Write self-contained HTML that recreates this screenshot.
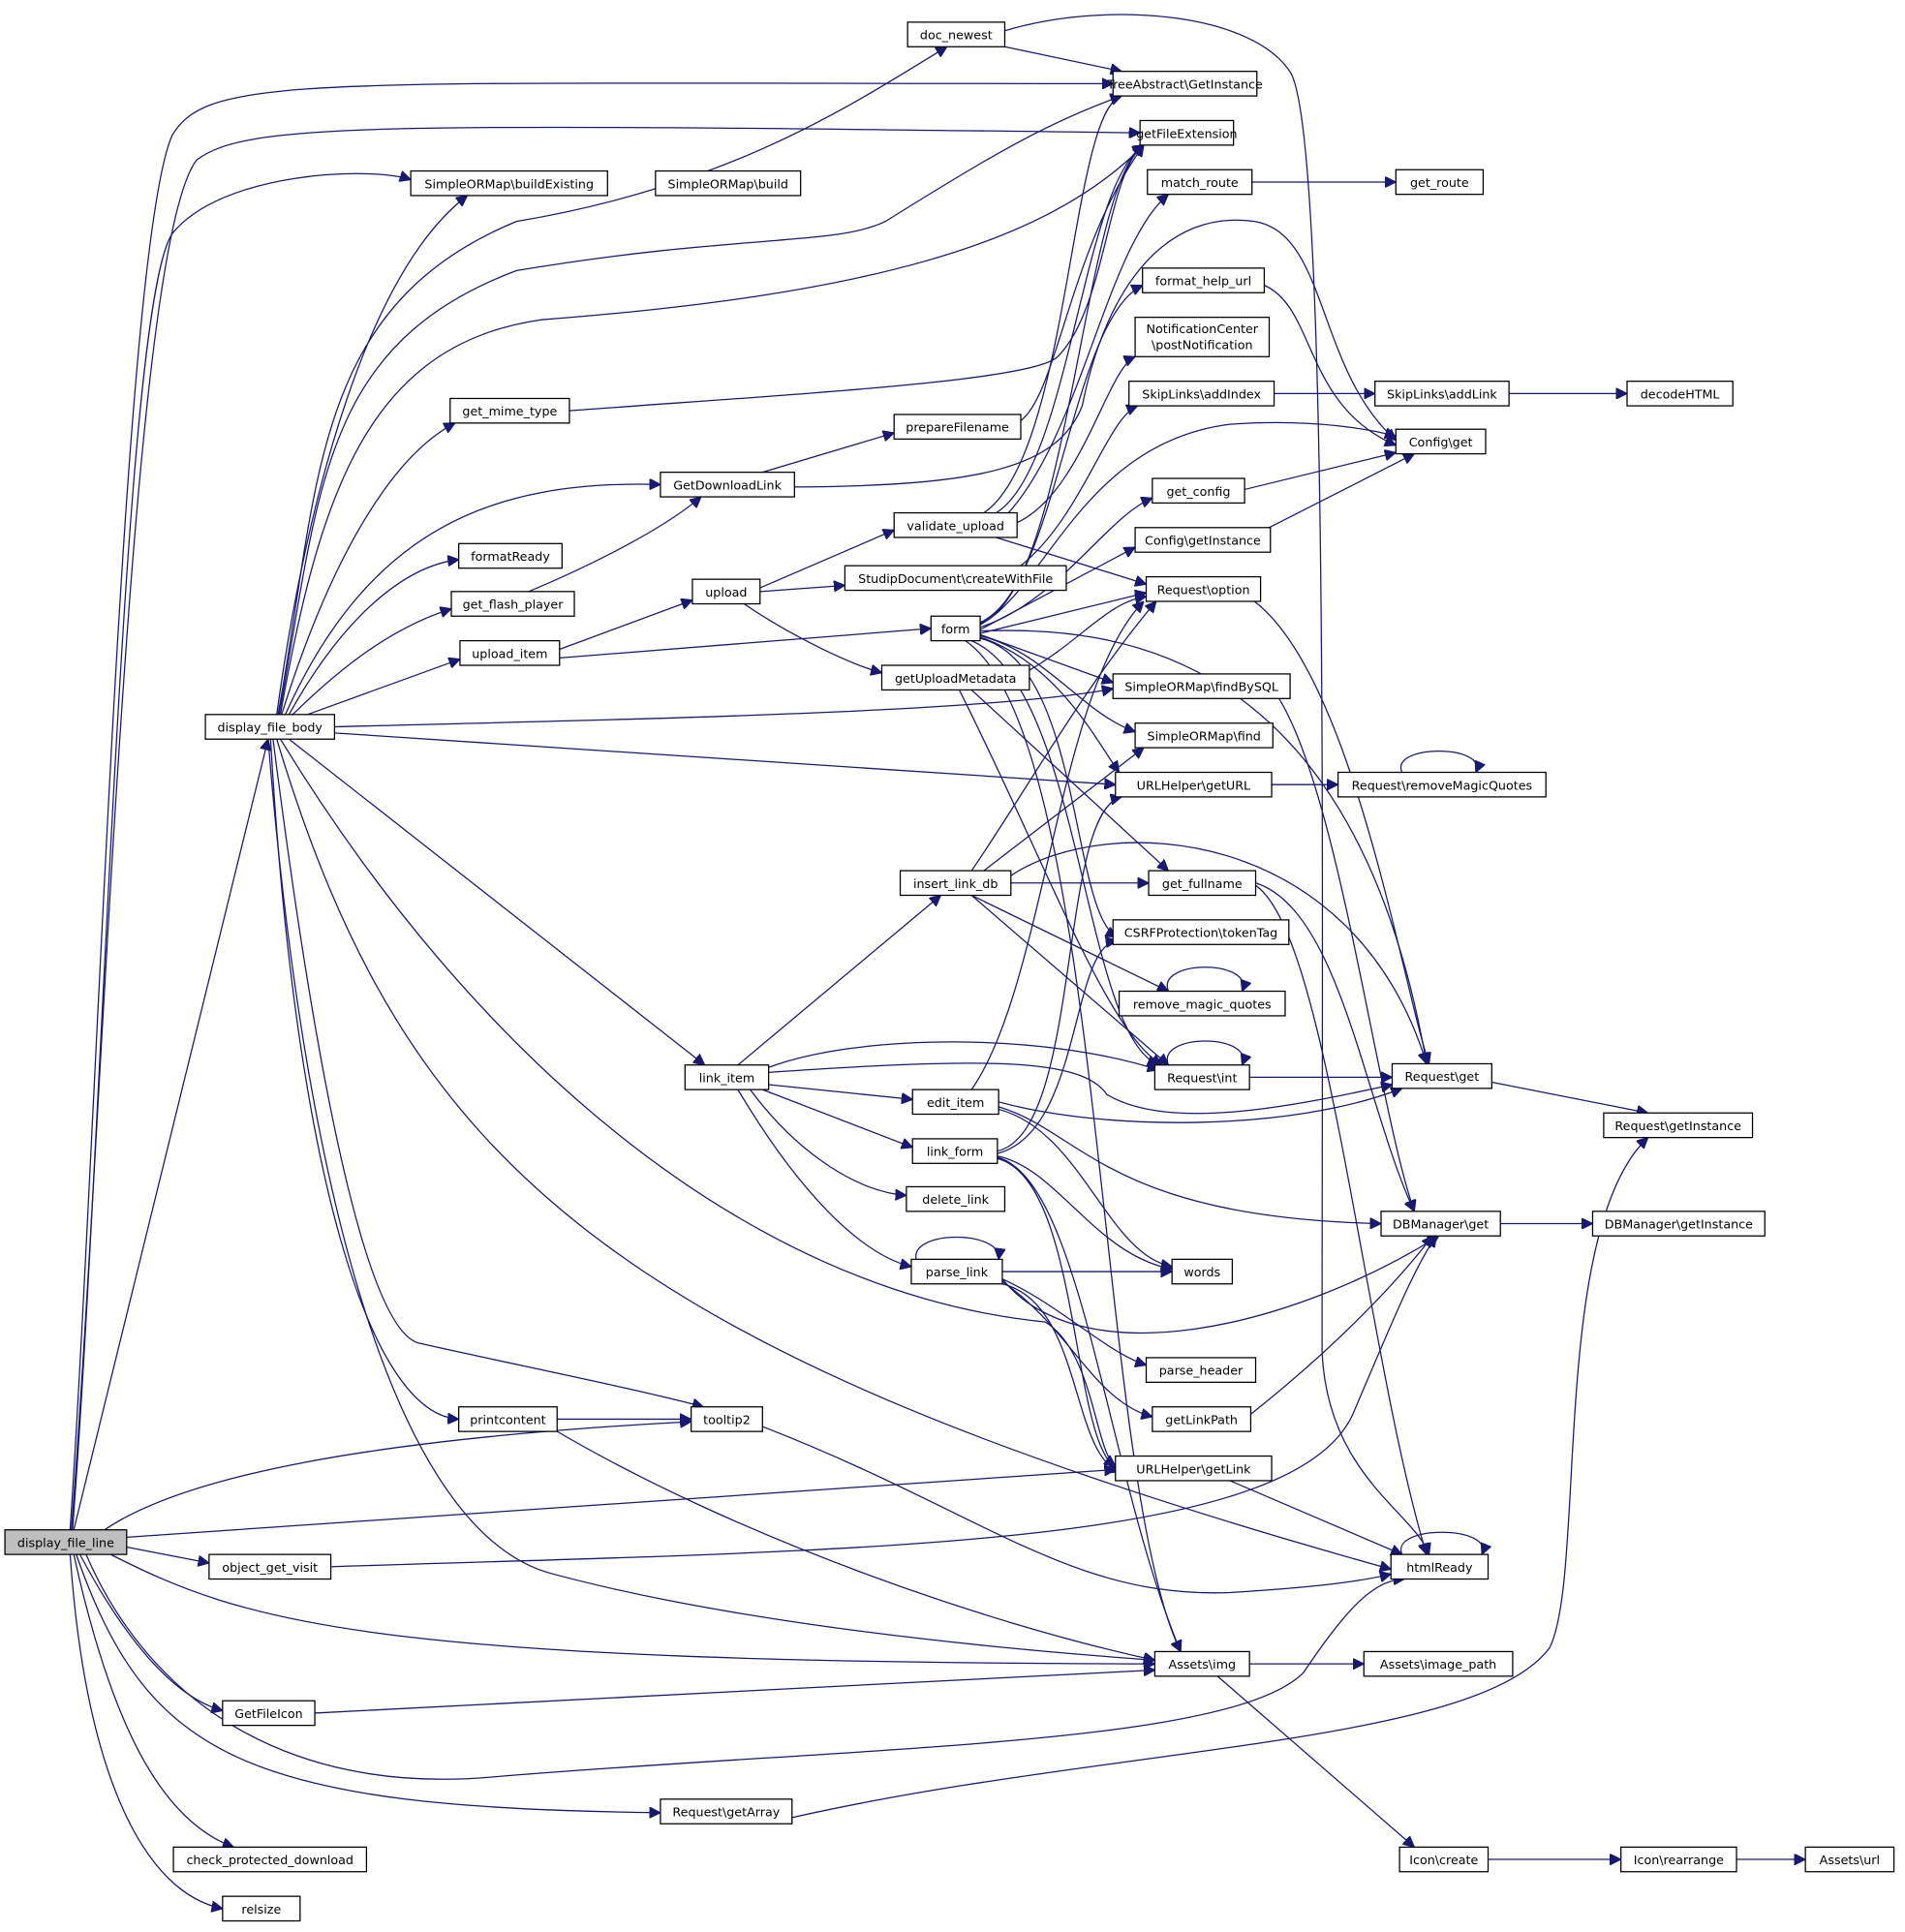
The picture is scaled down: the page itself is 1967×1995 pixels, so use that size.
<!DOCTYPE html>
<html><head><meta charset="utf-8"><style>
html,body{margin:0;padding:0;background:#fff;}
svg{display:block;}
.n rect{fill:#fff;stroke:#000;stroke-width:1;}
.n text, text{font-family:"DejaVu Sans","Liberation Sans",sans-serif;font-size:10px;fill:#000;text-anchor:middle;}
.e path{fill:none;stroke:#191970;stroke-width:1;marker-end:url(#a);}
</style></head><body>
<svg width="1967" height="1995" viewBox="0 0 1549 1571" xmlns="http://www.w3.org/2000/svg">
<defs><marker id="a" viewBox="0 0 10 10" refX="10" refY="5" markerWidth="9" markerHeight="9" markerUnits="userSpaceOnUse" orient="auto"><path d="M0,0 L10,5 L0,10 z" fill="#191970" stroke="#191970"/></marker></defs>
<g class="e">
<!-- display_file_line -->
<path d="M57,1244 C80,900 100,200 140,110 C170,60 250,68 905,68"/>
<path d="M58,1244 C85,900 105,200 160,130 C200,100 300,100 927,108"/>
<path d="M59,1244 C85,900 100,250 140,190 C180,140 300,135 334,146"/>
<path d="M60,1244 L218,601"/>
<path d="M85,1244 C150,1200 300,1170 562,1156"/>
<path d="M103,1250 L907,1195"/>
<path d="M103,1258 L170,1271"/>
<path d="M90,1264 C200,1320 300,1352 939,1353"/>
<path d="M65,1264 C100,1330 140,1380 181,1391"/>
<path d="M70,1264 C120,1380 230,1460 400,1445 C700,1420 1000,1420 1060,1360 C1100,1300 1120,1285 1142,1284"/>
<path d="M62,1264 C120,1430 200,1470 537,1474"/>
<path d="M60,1264 C90,1400 130,1480 190,1502"/>
<path d="M57,1264 C70,1450 120,1540 181,1552"/>
<!-- display_file_body -->
<path d="M225,581 C250,400 300,220 380,159"/>
<path d="M226,581 C260,400 250,250 420,180 C600,150 700,80 770,38"/>
<path d="M227,581 C260,400 260,280 420,220 C600,190 680,200 720,180 C800,130 850,100 912,78"/>
<path d="M228,581 C260,400 300,280 440,260 C700,240 850,200 930,118"/>
<path d="M229,581 C270,450 320,370 370,344"/>
<path d="M232,581 C300,430 400,390 537,394"/>
<path d="M235,581 C280,500 330,460 373,455"/>
<path d="M238,581 C280,540 320,510 367,495"/>
<path d="M250,581 L374,536"/>
<path d="M272,591 C500,585 800,580 905,560"/>
<path d="M272,596 L907,638"/>
<path d="M235,601 L573,866"/>
<path d="M228,601 C380,850 600,1050 850,1075 C890,1100 890,1180 907,1192"/>
<path d="M225,601 C330,950 500,1100 1131,1276"/>
<path d="M222,601 C260,900 300,1080 340,1092 C420,1110 520,1130 572,1144"/>
<path d="M220,601 C240,950 300,1150 373,1154"/>
<path d="M218,601 C250,1000 330,1250 450,1280 C600,1320 800,1340 939,1350"/>
<!-- misc -->
<path d="M463,334 C650,320 840,310 860,290 C900,250 900,140 930,118"/>
<path d="M620,384 L727,352"/>
<path d="M646,396 C800,395 860,380 880,330 C900,230 950,170 1020,180 C1080,190 1070,300 1135,358"/>
<path d="M430,481 C480,460 540,430 570,404"/>
<path d="M455,528 L563,488"/>
<path d="M455,535 L757,511"/>
<path d="M618,478 L727,431"/>
<path d="M618,481 L687,476"/>
<path d="M605,491 C640,515 690,540 717,547"/>
<path d="M830,342 C860,320 870,200 930,118"/>
<path d="M810,417 C870,380 880,150 930,118"/>
<path d="M820,417 C880,350 900,200 950,158"/>
<path d="M827,425 C880,400 900,300 923,290"/>
<path d="M810,437 L932,475"/>
<path d="M800,417 C870,370 870,90 912,78"/>
<path d="M830,460 C880,420 900,340 925,330"/>
<path d="M797,506 C860,480 870,260 929,232"/>
<path d="M797,507 C870,480 880,150 930,118"/>
<path d="M797,508 C850,480 880,360 1000,345 C1070,340 1120,350 1135,355"/>
<path d="M797,510 C860,490 900,420 937,405"/>
<path d="M797,512 L923,445"/>
<path d="M797,515 L932,482"/>
<path d="M797,516 L905,555"/>
<path d="M797,517 C850,530 880,580 923,595"/>
<path d="M797,518 C860,540 890,600 910,628"/>
<path d="M797,519 C880,540 870,740 908,762"/>
<path d="M790,521 C880,560 880,840 942,866"/>
<path d="M797,513 C900,510 1100,520 1160,865"/>
<path d="M785,521 C900,600 890,1200 960,1343"/>
<path d="M837,545 C880,520 900,490 932,485"/>
<path d="M790,561 L950,708"/>
<path d="M780,561 C850,700 900,840 945,866"/>
<path d="M1040,568 C1090,650 1120,900 1150,985"/>
<path d="M1034,638 L1088,638"/>
<path d="M1140,628 C1130,605 1210,605 1200,628"/>
<path d="M1020,489 C1100,550 1140,800 1162,865"/>
<path d="M1030,430 L1150,369"/>
<path d="M1012,398 L1135,368"/>
<path d="M1028,232 C1070,250 1060,330 1135,362"/>
<path d="M817,38 L912,58"/>
<path d="M817,25 C900,0 1020,10 1050,60 C1080,120 1075,700 1075,1100 C1080,1200 1150,1230 1162,1264"/>
<path d="M1036,320 L1118,320"/>
<path d="M1227,320 L1323,320"/>
<path d="M1018,148 L1135,148"/>
<path d="M790,708 C830,650 880,560 940,489"/>
<path d="M800,708 L930,608"/>
<path d="M822,718 L934,718"/>
<path d="M822,712 C900,660 1100,670 1160,865"/>
<path d="M790,728 L950,806"/>
<path d="M790,728 L950,866"/>
<path d="M1021,718 C1090,740 1110,900 1150,985"/>
<path d="M1021,720 C1080,760 1110,1100 1160,1264"/>
<path d="M950,806 C940,780 1020,780 1010,806"/>
<path d="M950,866 C940,840 1020,840 1010,866"/>
<path d="M1016,876 L1132,876"/>
<path d="M1213,880 L1340,905"/>
<path d="M600,866 L765,728"/>
<path d="M625,868 C700,840 850,840 942,870"/>
<path d="M625,872 C800,860 880,860 900,890 C950,920 1050,900 1132,882"/>
<path d="M625,882 L742,894"/>
<path d="M620,886 L742,933"/>
<path d="M610,886 C650,940 700,970 737,972"/>
<path d="M600,886 C650,970 700,1020 741,1030"/>
<path d="M790,886 C850,800 860,560 930,489"/>
<path d="M812,896 C900,920 1050,920 1140,885"/>
<path d="M812,900 C880,920 900,990 1123,995"/>
<path d="M812,902 C880,920 900,1020 953,1030"/>
<path d="M811,936 C880,920 860,660 912,648"/>
<path d="M811,938 C880,920 870,770 908,765"/>
<path d="M811,940 C860,950 890,1020 953,1032"/>
<path d="M811,941 C880,960 900,1200 960,1343"/>
<path d="M811,942 C880,960 870,1180 910,1195"/>
<path d="M745,1024 C740,1000 815,1000 812,1024"/>
<path d="M815,1034 L953,1034"/>
<path d="M815,1040 C860,1060 900,1100 932,1110"/>
<path d="M815,1042 C870,1080 890,1140 937,1152"/>
<path d="M815,1044 C880,1060 870,1180 910,1197"/>
<path d="M815,1040 C880,1120 1050,1080 1170,1005"/>
<path d="M1017,1150 C1080,1100 1130,1050 1165,1005"/>
<path d="M453,1154 L562,1154"/>
<path d="M453,1164 C600,1250 800,1320 939,1350"/>
<path d="M620,1160 C800,1230 870,1300 1000,1295 C1080,1290 1110,1285 1131,1280"/>
<path d="M269,1274 C700,1260 1050,1260 1100,1150 C1130,1080 1150,1030 1168,1005"/>
<path d="M256,1393 L939,1358"/>
<path d="M1000,1204 L1140,1264"/>
<path d="M1140,1264 C1130,1240 1215,1240 1205,1264"/>
<path d="M1016,1353 L1109,1353"/>
<path d="M990,1363 L1150,1502"/>
<path d="M644,1478 C900,1420 1200,1420 1260,1340 C1290,1280 1260,1000 1340,925"/>
<path d="M1210,1512 L1318,1512"/>
<path d="M1412,1512 L1468,1512"/>
<path d="M1220,995 L1295,995"/>
</g>
<g class="n">
<rect x="4" y="1244" width="99" height="20" style="fill:#bfbfbf"/><text x="53.5" y="1258">display_file_line</text>
<rect x="738" y="18" width="79" height="20"/><text x="777.5" y="32">doc_newest</text>
<rect x="905" y="58" width="117" height="20"/><text x="963.5" y="72">TreeAbstract\GetInstance</text>
<rect x="927" y="98" width="76" height="20"/><text x="965" y="112">getFileExtension</text>
<rect x="334" y="139" width="160" height="20"/><text x="414" y="153">SimpleORMap\buildExisting</text>
<rect x="533" y="139" width="118" height="20"/><text x="592" y="153">SimpleORMap\build</text>
<rect x="933" y="138" width="85" height="20"/><text x="975.5" y="152">match_route</text>
<rect x="1135" y="138" width="71" height="20"/><text x="1170.5" y="152">get_route</text>
<rect x="929" y="218" width="99" height="20"/><text x="978.5" y="232">format_help_url</text>
<rect x="923" y="258" width="109" height="32"/><text x="977.5" y="271">NotificationCenter</text><text x="977.5" y="284">\postNotification</text>
<rect x="918" y="310" width="118" height="20"/><text x="977" y="324">SkipLinks\addIndex</text>
<rect x="1118" y="310" width="109" height="20"/><text x="1172.5" y="324">SkipLinks\addLink</text>
<rect x="1323" y="310" width="86" height="20"/><text x="1366" y="324">decodeHTML</text>
<rect x="366" y="324" width="97" height="20"/><text x="414.5" y="338">get_mime_type</text>
<rect x="1135" y="349" width="73" height="20"/><text x="1171.5" y="363">Config\get</text>
<rect x="727" y="337" width="103" height="20"/><text x="778.5" y="351">prepareFilename</text>
<rect x="537" y="384" width="109" height="20"/><text x="591.5" y="398">GetDownloadLink</text>
<rect x="937" y="389" width="75" height="20"/><text x="974.5" y="403">get_config</text>
<rect x="727" y="417" width="100" height="20"/><text x="777" y="431">validate_upload</text>
<rect x="923" y="429" width="110" height="20"/><text x="978" y="443">Config\getInstance</text>
<rect x="373" y="442" width="84" height="20"/><text x="415" y="456">formatReady</text>
<rect x="687" y="460" width="180" height="20"/><text x="777" y="474">StudipDocument\createWithFile</text>
<rect x="563" y="471" width="55" height="20"/><text x="590.5" y="485">upload</text>
<rect x="932" y="469" width="93" height="20"/><text x="978.5" y="483">Request\option</text>
<rect x="367" y="481" width="100" height="20"/><text x="417" y="495">get_flash_player</text>
<rect x="757" y="501" width="40" height="20"/><text x="777" y="515">form</text>
<rect x="374" y="521" width="81" height="20"/><text x="414.5" y="535">upload_item</text>
<rect x="717" y="541" width="120" height="20"/><text x="777" y="555">getUploadMetadata</text>
<rect x="905" y="548" width="144" height="20"/><text x="977" y="562">SimpleORMap\findBySQL</text>
<rect x="167" y="581" width="105" height="20"/><text x="219.5" y="595">display_file_body</text>
<rect x="923" y="588" width="112" height="20"/><text x="979" y="602">SimpleORMap\find</text>
<rect x="907" y="628" width="127" height="20"/><text x="970.5" y="642">URLHelper\getURL</text>
<rect x="1088" y="628" width="169" height="20"/><text x="1172.5" y="642">Request\removeMagicQuotes</text>
<rect x="732" y="708" width="90" height="20"/><text x="777" y="722">insert_link_db</text>
<rect x="934" y="708" width="87" height="20"/><text x="977.5" y="722">get_fullname</text>
<rect x="905" y="748" width="143" height="20"/><text x="976.5" y="762">CSRFProtection\tokenTag</text>
<rect x="910" y="806" width="135" height="20"/><text x="977.5" y="820">remove_magic_quotes</text>
<rect x="557" y="866" width="68" height="20"/><text x="591" y="880">link_item</text>
<rect x="939" y="866" width="77" height="20"/><text x="977.5" y="880">Request\int</text>
<rect x="1132" y="865" width="81" height="20"/><text x="1172.5" y="879">Request\get</text>
<rect x="742" y="886" width="70" height="20"/><text x="777" y="900">edit_item</text>
<rect x="1304" y="905" width="121" height="20"/><text x="1364.5" y="919">Request\getInstance</text>
<rect x="742" y="926" width="69" height="20"/><text x="776.5" y="940">link_form</text>
<rect x="737" y="965" width="80" height="20"/><text x="777" y="979">delete_link</text>
<rect x="1123" y="985" width="97" height="20"/><text x="1171.5" y="999">DBManager\get</text>
<rect x="1295" y="985" width="140" height="20"/><text x="1365" y="999">DBManager\getInstance</text>
<rect x="953" y="1024" width="49" height="20"/><text x="977.5" y="1038">words</text>
<rect x="741" y="1024" width="74" height="20"/><text x="778" y="1038">parse_link</text>
<rect x="932" y="1104" width="89" height="20"/><text x="976.5" y="1118">parse_header</text>
<rect x="937" y="1144" width="80" height="20"/><text x="977" y="1158">getLinkPath</text>
<rect x="373" y="1144" width="80" height="20"/><text x="413" y="1158">printcontent</text>
<rect x="562" y="1144" width="58" height="20"/><text x="591" y="1158">tooltip2</text>
<rect x="907" y="1184" width="127" height="20"/><text x="970.5" y="1198">URLHelper\getLink</text>
<rect x="1131" y="1264" width="79" height="20"/><text x="1170.5" y="1278">htmlReady</text>
<rect x="170" y="1264" width="99" height="20"/><text x="219.5" y="1278">object_get_visit</text>
<rect x="939" y="1343" width="77" height="20"/><text x="977.5" y="1357">Assets\img</text>
<rect x="1109" y="1343" width="121" height="20"/><text x="1169.5" y="1357">Assets\image_path</text>
<rect x="181" y="1383" width="75" height="20"/><text x="218.5" y="1397">GetFileIcon</text>
<rect x="537" y="1463" width="107" height="20"/><text x="590.5" y="1477">Request\getArray</text>
<rect x="141" y="1502" width="157" height="20"/><text x="219.5" y="1516">check_protected_download</text>
<rect x="181" y="1542" width="63" height="20"/><text x="212.5" y="1556">relsize</text>
<rect x="1138" y="1502" width="72" height="20"/><text x="1174" y="1516">Icon\create</text>
<rect x="1318" y="1502" width="94" height="20"/><text x="1365" y="1516">Icon\rearrange</text>
<rect x="1468" y="1502" width="72" height="20"/><text x="1504" y="1516">Assets\url</text>
</g>
</svg>
</body></html>
